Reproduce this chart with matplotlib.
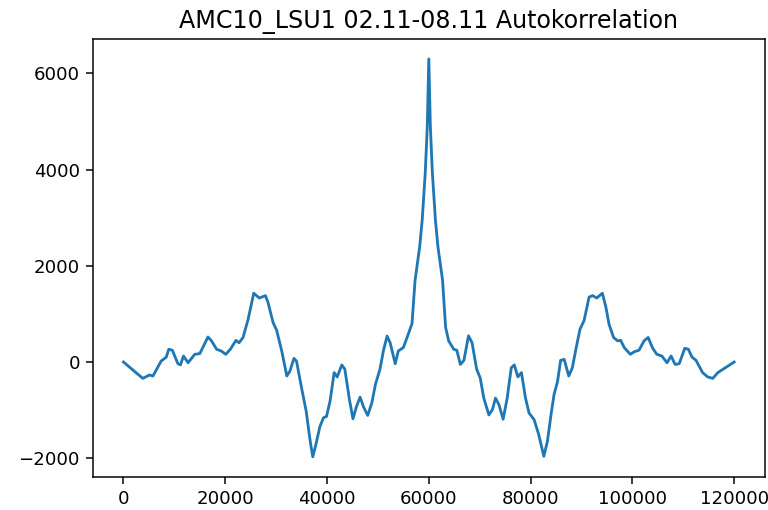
import matplotlib

matplotlib.use("Agg")
import matplotlib.pyplot as plt

# lag (samples) and autocorrelation value
lag = [
    0, 3800, 5100, 5800, 7400, 8400, 8900, 9600, 10700, 11200, 11800, 12700,
    14000, 15000, 16600, 17300, 18300, 19200, 20100, 21000, 22100, 22700, 23500,
    24500, 25600, 26700, 27900, 28400, 29400, 30100, 31100, 32100, 32700, 33500,
    34000, 35000, 35900, 36700, 37200, 37800, 38600, 39300, 39900, 40600, 41400,
    42000, 42900, 43500, 44400, 45100, 45800, 46500, 47200, 48000, 48800, 49500,
    50400, 51100, 51800, 52400, 53400, 54000, 55000, 56000, 56700, 57300, 58200,
    58700, 59300, 59700, 60000, 60300, 60700, 61300, 61800, 62700, 63300, 63900,
    64900, 65500, 66200, 66900, 67800, 68500, 69400, 70100, 70800, 71800, 72500,
    73100, 73800, 74600, 75400, 76200, 76800, 77500, 78200, 79000, 79700, 80700,
    81600, 82600, 83300, 84100, 84600, 85300, 85900, 86600, 87500, 88200, 88900,
    89700, 90500, 91500, 92200, 93000, 94100, 94800, 95400, 96300, 97100, 97700,
    98400, 99600, 100400, 101300, 102300, 103100, 104000, 104800, 105800, 106800,
    107600, 108400, 109200, 110300, 111000, 111700, 112500, 113800, 114800,
    115800, 116800, 120000,
]
acf = [
    0, -340, -270, -290, 20, 100, 265, 245, -35, -60, 125, -15,
    160, 175, 520, 440, 265, 230, 160, 265, 450, 400, 510,
    890, 1430, 1330, 1380, 1240, 820, 660, 230, -290, -190, 75,
    20, -540, -1020, -1650, -1970, -1720, -1340, -1160, -1130, -810, -220,
    -310, -60, -150, -780, -1180, -920, -730, -940, -1110, -850, -470,
    -150, 245, 540, 400, -35, 230, 300, 590, 800, 1700, 2390,
    2950, 3930, 4900, 6300, 4900, 3930, 2950, 2390, 1700, 720, 440,
    265, 245, -50, 35, 545, 400, -150, -330, -750, -1100, -990,
    -750, -890, -1190, -750, -120, -60, -310, -220, -750, -1060, -1200,
    -1510, -1960, -1650, -1030, -680, -400, 35, 55, -290, -120, 265,
    680, 860, 1350, 1380, 1330, 1430, 1140, 790, 510, 440, 450,
    300, 160, 215, 245, 440, 510, 285, 160, 125, -15,
    125, -50, -35, 285, 265, 105, 35, -220, -310,
    -340, -220, 0,
]

dpi = 135
plt.rcParams["xtick.labelsize"] = 9.7
plt.rcParams["ytick.labelsize"] = 9.7
fig = plt.figure(figsize=(768 / dpi, 510 / dpi), dpi=dpi)
ax = fig.add_axes([0.121, 0.0653, 0.8747, 0.8582])
ax.plot(lag, acf)
ax.set_title("AMC10_LSU1 02.11-08.11 Autokorrelation", fontsize=12.7)
fig.savefig("out.png", dpi=dpi)
